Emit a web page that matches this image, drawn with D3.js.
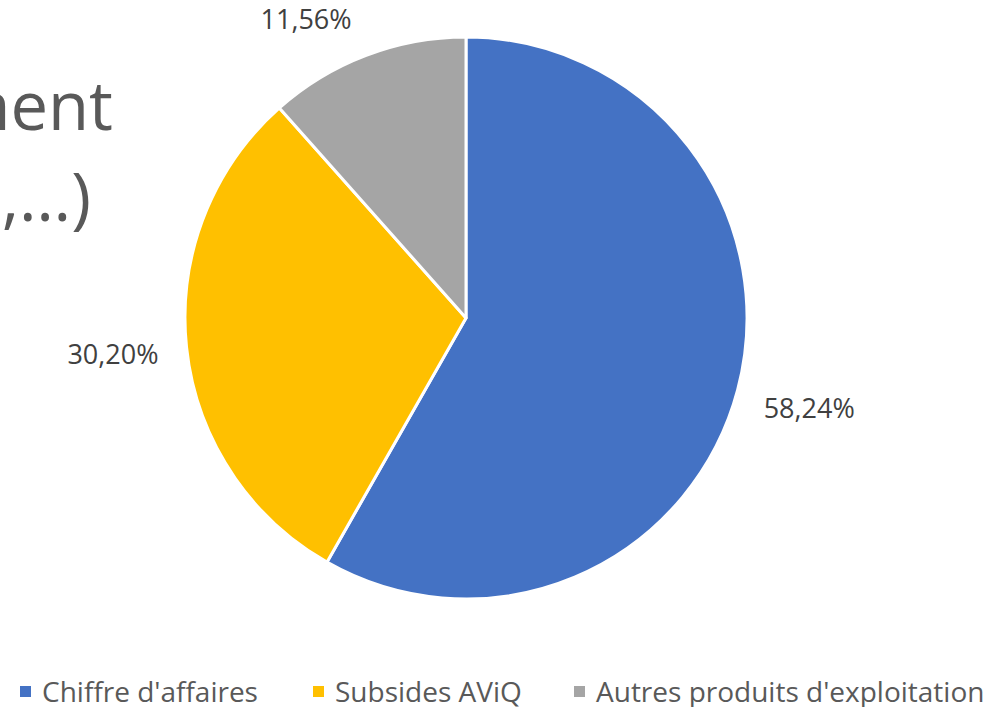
<!DOCTYPE html>
<html>
<head>
<meta charset="utf-8">
<script src="https://cdn.jsdelivr.net/npm/d3@7"></script>
<style>
  html, body { margin: 0; padding: 0; background: #fff; }
  svg { display: block; }
</style>
</head>
<body>
<svg id="chart" width="989" height="707"></svg>
<script>
// data
var categories = ["Chiffre d'affaires", "Subsides AViQ", "Autres produits d'exploitation"];
var values = [58.24, 30.20, 11.56];
var colors = ["#4472C4", "#FFC000", "#A5A5A5"];
var titleLines = ["ment", "o,…)"];

var svg = d3.select("#chart");
var W = 989, H = 707;
var cx = 466, cy = 318, r = 281;

// bits of slide title behind the chart (cut off at left)
svg.selectAll("text.bg")
  .data(titleLines)
  .enter().append("text")
  .attr("class", "bg")
  .attr("x", function(d, i) { return i == 0 ? 113 : 91; })
  .attr("y", function(d, i) { return i == 0 ? 130 : 221; })
  .attr("text-anchor", "end")
  .attr("font-family", "'Open Sans', sans-serif")
  .attr("font-size", 67)
  .attr("fill", "#595959")
  .text(function(d) { return d; });

var pie = d3.pie().sort(null).value(function(d) { return d; });
var arcs = pie(values);
var arc = d3.arc().innerRadius(0).outerRadius(r);
var labelArc = d3.arc().innerRadius(355).outerRadius(355);

var g = svg.append("g").attr("transform", "translate(" + cx + "," + cy + ")");

g.selectAll("path")
  .data(arcs)
  .enter().append("path")
  .attr("d", arc)
  .attr("fill", function(d, i) { return colors[i]; })
  .attr("stroke", "#fff")
  .attr("stroke-width", 3)
  .attr("stroke-linejoin", "round");

function fmt(v) { return v.toFixed(2).replace(".", ",") + "%"; }

g.selectAll("text.lbl")
  .data(arcs)
  .enter().append("text")
  .attr("class", "lbl")
  .attr("transform", function(d) {
    var p = labelArc.centroid(d);
    // keep label inside the top edge
    var minY = 20 - cy;
    if (p[1] < minY) {
      var over = minY - p[1];
      p[1] = minY;
      p[0] = p[0] + (p[0] < 0 ? -over : over);
    }
    return "translate(" + p[0] + "," + p[1] + ")";
  })
  .attr("text-anchor", "middle")
  .attr("dy", "0.35em")
  .attr("font-family", "'Open Sans', sans-serif")
  .attr("font-size", 27)
  .attr("fill", "#404040")
  .text(function(d) { return fmt(d.value); });

// legend
var legX = [20, 313, 574];
var leg = svg.selectAll("g.leg")
  .data(categories)
  .enter().append("g")
  .attr("class", "leg")
  .attr("transform", function(d, i) { return "translate(" + legX[i] + ",692)"; });

leg.append("rect")
  .attr("x", 0).attr("y", -6)
  .attr("width", 11).attr("height", 11)
  .attr("fill", function(d, i) { return colors[i]; });

leg.append("text")
  .attr("x", 22)
  .attr("y", 0)
  .attr("dy", "0.35em")
  .attr("font-family", "'Open Sans', sans-serif")
  .attr("font-size", 28)
  .attr("fill", "#595959")
  .text(function(d) { return d; });
</script>
</body>
</html>
